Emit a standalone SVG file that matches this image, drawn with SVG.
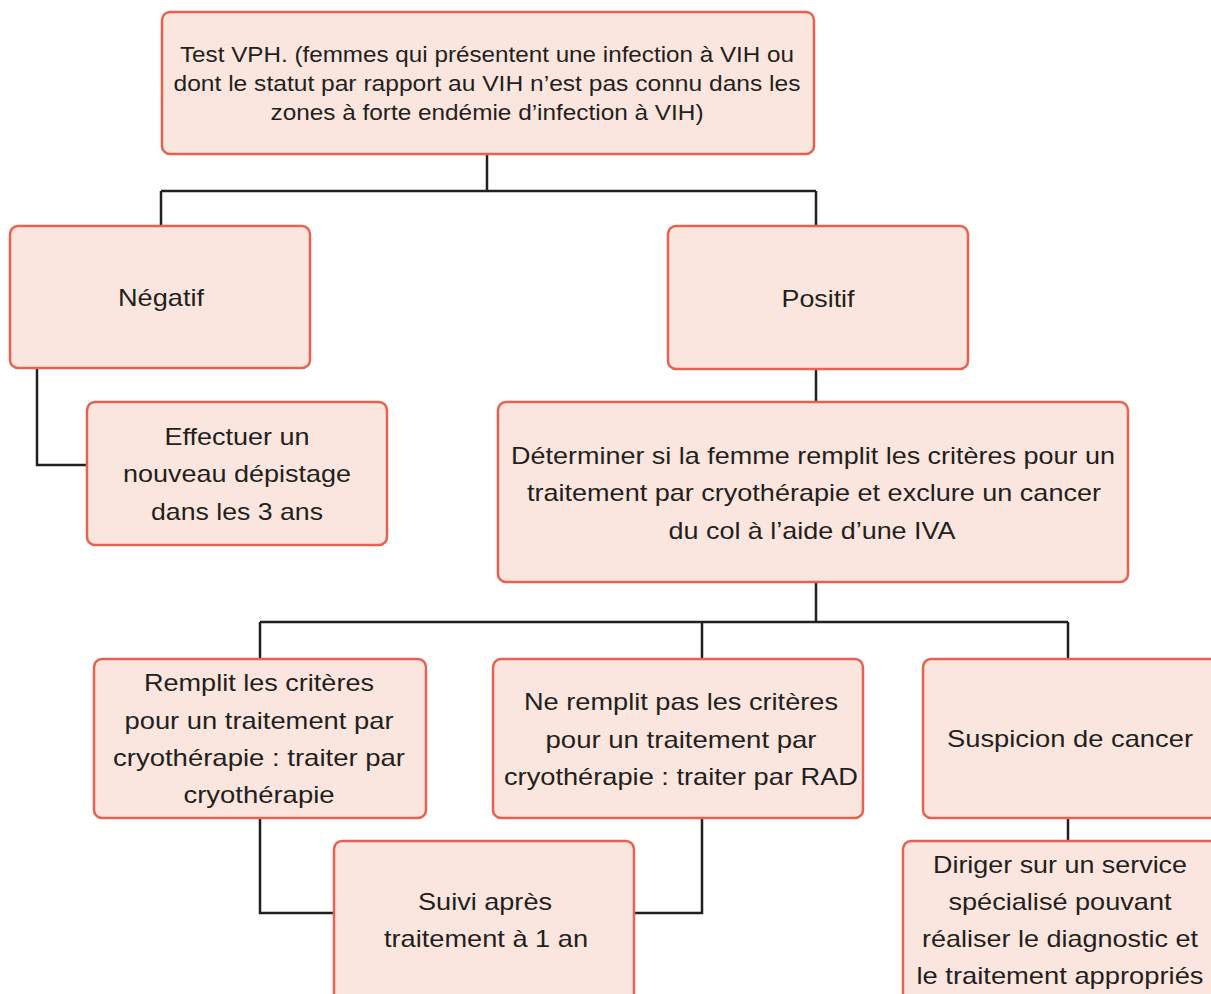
<svg xmlns="http://www.w3.org/2000/svg" width="1211" height="994" viewBox="0 0 1211 994">
<style>
.box{fill:#fbe6df;stroke:#e8604f;stroke-width:2.5}
.t{font-family:"Liberation Sans",Arial,sans-serif;font-size:24px;fill:#231f20;text-anchor:middle}
.s{font-size:22px}
.c{fill:none;stroke:#231f20;stroke-width:2.5}
</style>
<rect width="1211" height="994" fill="#ffffff"/>
<g id="connectors">
<path class="c" d="M487 154V191M161 191H816M161 191V226M816 191V226"/>
<path class="c" d="M37 368V465H87"/>
<path class="c" d="M816 369V402"/>
<path class="c" d="M816 582V622M260 622H1068M260 622V659M702 622V659M1068 622V659"/>
<path class="c" d="M260 818V913H334M702 818V913H634"/>
<path class="c" d="M1068 818V841"/>
</g>
<g id="n-test">
<rect class="box" x="162" y="12" width="652" height="142" rx="8"/>
<text class="t s" x="487" y="62" textLength="614" lengthAdjust="spacingAndGlyphs">Test VPH. (femmes qui présentent une infection à VIH ou</text>
<text class="t s" x="487" y="91" textLength="627" lengthAdjust="spacingAndGlyphs">dont le statut par rapport au VIH n’est pas connu dans les</text>
<text class="t s" x="487" y="120" textLength="433" lengthAdjust="spacingAndGlyphs">zones à forte endémie d’infection à VIH)</text>
</g>
<g id="n-negatif">
<rect class="box" x="10" y="226" width="300" height="142" rx="8"/>
<text class="t" x="161" y="306" textLength="86" lengthAdjust="spacingAndGlyphs">Négatif</text>
</g>
<g id="n-positif">
<rect class="box" x="668" y="226" width="300" height="143" rx="8"/>
<text class="t" x="818" y="307" textLength="73" lengthAdjust="spacingAndGlyphs">Positif</text>
</g>
<g id="n-effectuer">
<rect class="box" x="87" y="402" width="300" height="143" rx="8"/>
<text class="t" x="237" y="445" textLength="145" lengthAdjust="spacingAndGlyphs">Effectuer un</text>
<text class="t" x="237" y="482" textLength="228" lengthAdjust="spacingAndGlyphs">nouveau dépistage</text>
<text class="t" x="237" y="520" textLength="172" lengthAdjust="spacingAndGlyphs">dans les 3 ans</text>
</g>
<g id="n-determiner">
<rect class="box" x="498" y="402" width="630" height="180" rx="8"/>
<text class="t" x="813" y="464" textLength="604" lengthAdjust="spacingAndGlyphs">Déterminer si la femme remplit les critères pour un</text>
<text class="t" x="814" y="501" textLength="574" lengthAdjust="spacingAndGlyphs">traitement par cryothérapie et exclure un cancer</text>
<text class="t" x="812" y="539" textLength="287" lengthAdjust="spacingAndGlyphs">du col à l’aide d’une IVA</text>
</g>
<g id="n-remplit">
<rect class="box" x="94" y="659" width="332" height="159" rx="8"/>
<text class="t" x="259" y="691" textLength="230" lengthAdjust="spacingAndGlyphs">Remplit les critères</text>
<text class="t" x="259" y="729" textLength="269" lengthAdjust="spacingAndGlyphs">pour un traitement par</text>
<text class="t" x="259" y="766" textLength="292" lengthAdjust="spacingAndGlyphs">cryothérapie : traiter par</text>
<text class="t" x="259" y="803" textLength="151" lengthAdjust="spacingAndGlyphs">cryothérapie</text>
</g>
<g id="n-neremplit">
<rect class="box" x="493" y="659" width="370" height="159" rx="8"/>
<text class="t" x="681" y="710" textLength="314" lengthAdjust="spacingAndGlyphs">Ne remplit pas les critères</text>
<text class="t" x="681" y="748" textLength="271" lengthAdjust="spacingAndGlyphs">pour un traitement par</text>
<text class="t" x="681" y="785" textLength="354" lengthAdjust="spacingAndGlyphs">cryothérapie : traiter par RAD</text>
</g>
<g id="n-suspicion">
<rect class="box" x="923" y="659" width="300" height="159" rx="8"/>
<text class="t" x="1070" y="747" textLength="246" lengthAdjust="spacingAndGlyphs">Suspicion de cancer</text>
</g>
<g id="n-suivi">
<rect class="box" x="334" y="841" width="300" height="170" rx="8"/>
<text class="t" x="485" y="910" textLength="134" lengthAdjust="spacingAndGlyphs">Suivi après</text>
<text class="t" x="486" y="947" textLength="204" lengthAdjust="spacingAndGlyphs">traitement à 1 an</text>
</g>
<g id="n-diriger">
<rect class="box" x="903" y="841" width="320" height="170" rx="8"/>
<text class="t" x="1060" y="873" textLength="254" lengthAdjust="spacingAndGlyphs">Diriger sur un service</text>
<text class="t" x="1060" y="910" textLength="223" lengthAdjust="spacingAndGlyphs">spécialisé pouvant</text>
<text class="t" x="1060" y="947" textLength="276" lengthAdjust="spacingAndGlyphs">réaliser le diagnostic et</text>
<text class="t" x="1060" y="984" textLength="287" lengthAdjust="spacingAndGlyphs">le traitement appropriés</text>
</g>
</svg>
